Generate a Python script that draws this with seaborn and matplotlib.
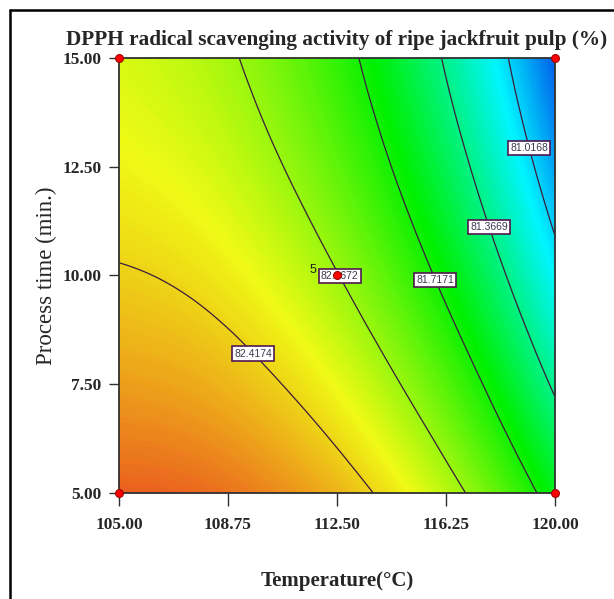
import matplotlib
matplotlib.use('Agg')
import matplotlib.pyplot as plt
import matplotlib.tri as mtri
from matplotlib.colors import LinearSegmentedColormap, Normalize
from matplotlib.lines import Line2D
import numpy as np
import pandas as pd
import seaborn as sns

# grid: temperature (x), process time (y)
temps = [105.0, 107.5, 110.0, 112.5, 115.0, 117.5, 120.0]
times = [5.0, 7.5, 10.0, 12.5, 15.0]
# DPPH scavenging (%) estimated at each grid node, one row per process time
dpph_t5 = [82.810, 82.784, 82.689, 82.525, 82.292, 81.991, 81.620]
dpph_t7_5 = [82.601, 82.562, 82.454, 82.278, 82.033, 81.719, 81.336]
dpph_t10 = [82.434, 82.383, 82.263, 82.074, 81.816, 81.490, 81.094]
dpph_t12_5 = [82.311, 82.247, 82.114, 81.913, 81.643, 81.304, 80.896]
dpph_t15 = [82.230, 82.154, 82.009, 81.795, 81.512, 81.161, 80.740]

contour_levels = [81.0168, 81.3669, 81.7171, 82.0672, 82.4174]

# design points (factorial corners + centre point with 5 replicates)
design_temp = [105.0, 105.0, 120.0, 120.0, 112.5]
design_time = [5.0, 15.0, 5.0, 15.0, 10.0]
center_reps = 5

xticks = [105.0, 108.75, 112.5, 116.25, 120.0]
yticks = [5.0, 7.5, 10.0, 12.5, 15.0]

sns.set_theme(style='white')
plt.rcParams['font.family'] = ['Liberation Serif', 'DejaVu Serif']

Z = np.array([dpph_t5, dpph_t7_5, dpph_t10, dpph_t12_5, dpph_t15])
X, Y = np.meshgrid(temps, times)

# smooth the surface between grid nodes with matplotlib's cubic refiner
tri = mtri.Triangulation(X.ravel(), Y.ravel())
refiner = mtri.UniformTriRefiner(tri)
tri_f, z_f = refiner.refine_field(Z.ravel(), subdiv=4)

cmap = LinearSegmentedColormap.from_list('dx', [
    (0.00, (0.00, 0.37, 0.92)),
    (0.17, (0.00, 0.96, 1.00)),
    (0.45, (0.00, 0.94, 0.00)),
    (0.75, (0.94, 0.98, 0.08)),
    (1.00, (0.92, 0.38, 0.12)),
])
norm = Normalize(vmin=Z.min(), vmax=Z.max())

fig = plt.figure(figsize=(6.14, 5.99), dpi=100)
ax = fig.add_axes([0.1938, 0.1770, 0.7101, 0.7262])

ax.tricontourf(tri_f, z_f, levels=256, cmap=cmap, norm=norm)
cs = ax.tricontour(tri_f, z_f, levels=contour_levels, colors='#3c1c3c', linewidths=0.9)

label_pos = [(119.03, 12.91), (117.56, 11.07), (115.94, 9.92), (112.77, 10.05), (109.75, 8.29)]
labels = ax.clabel(cs, fmt='%.4f', inline=False, manual=label_pos, fontsize=7.5)
for t in labels:
    t.set_rotation(0)
    t.set_family('Liberation Sans')
    t.set_color('#3a3a50')
    t.set_bbox(dict(boxstyle='square,pad=0.2', facecolor='white', edgecolor='#501850', linewidth=1.2))

pts = pd.DataFrame({'temp': design_temp, 'time': design_time})
sns.scatterplot(data=pts, x='temp', y='time', ax=ax, color='#ff0000', edgecolor='#a00000',
                s=32, linewidth=0.8, zorder=5, clip_on=False)
ax.annotate(str(center_reps), (design_temp[-1], design_time[-1]), xytext=(-20, 2),
            textcoords='offset points', fontsize=9, family='Liberation Sans', color='#202020')

ax.set_xlim(105, 120)
ax.set_ylim(5, 15)
ax.set_xticks(xticks)
ax.set_yticks(yticks)
ax.set_xticklabels(['%.2f' % v for v in xticks], fontweight='bold', fontsize=12.5)
ax.set_yticklabels(['%.2f' % v for v in yticks], fontweight='bold', fontsize=12.5)
ax.tick_params(axis='x', direction='out', length=9, width=1, color='#303030', pad=8, bottom=True)
ax.tick_params(axis='y', direction='out', length=7.5, width=1, color='#303030', pad=5, left=True)
for s in ax.spines.values():
    s.set_color('#303030')
    s.set_linewidth(1.3)

ax.set_title('DPPH radical scavenging activity of ripe jackfruit pulp (%)',
             fontsize=15.3, fontweight='bold', pad=9)
ax.set_xlabel('Temperature(°C)', fontsize=15, fontweight='bold', labelpad=28)
ax.set_ylabel('Process time (min.)', fontsize=16.5, labelpad=4)

# outer frame lines (left and top)
fig.add_artist(Line2D([0.0163, 0.0163], [0.0, 0.9833], color='black', linewidth=1.8))
fig.add_artist(Line2D([0.0163, 1.0], [0.9833, 0.9833], color='black', linewidth=1.8))

fig.savefig('out.png', dpi=100)
